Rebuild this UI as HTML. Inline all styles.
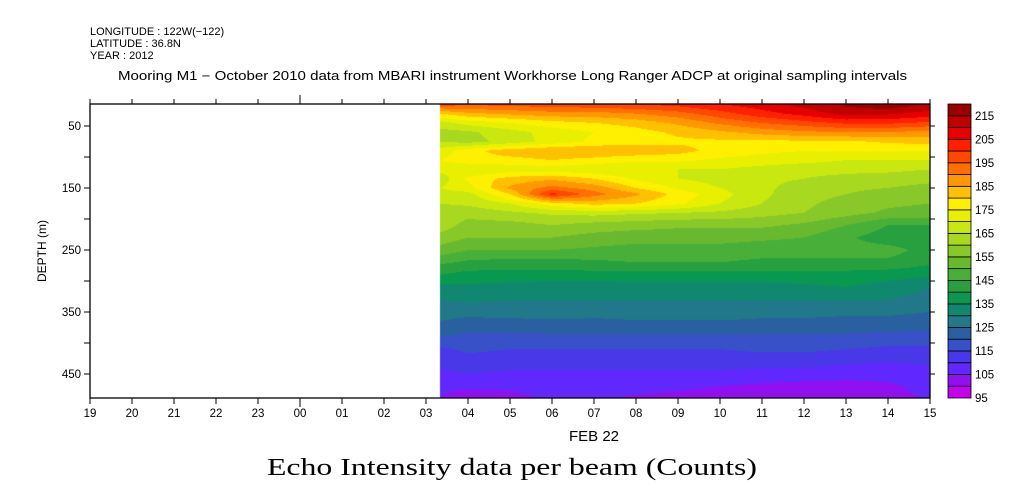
<!DOCTYPE html>
<html><head><meta charset="utf-8"><style>
body{margin:0;background:#fff;width:1009px;height:504px;overflow:hidden;position:relative}
svg{position:absolute;left:0;top:0}
canvas{position:absolute;left:0;top:0}
text{font-family:"Liberation Sans",sans-serif;fill:#000}
</style></head><body>
<canvas id="cv" width="1009" height="504"></canvas>
<svg id="sv" width="1009" height="504">
<text x="90" y="35" font-size="11">LONGITUDE : 122W(−122)</text>
<text x="90" y="47" font-size="11">LATITUDE : 36.8N</text>
<text x="90" y="59" font-size="11">YEAR : 2012</text>
<text x="118" y="80" font-size="12.5" textLength="789" lengthAdjust="spacingAndGlyphs">Mooring M1 − October 2010 data from MBARI instrument Workhorse Long Ranger ADCP at original sampling intervals</text>
<text x="46" y="251" font-size="12" text-anchor="middle" transform="rotate(-90 46 251)">DEPTH (m)</text>
<text x="594" y="441" font-size="15" text-anchor="middle">FEB 22</text>
<text x="267" y="475" font-size="24" textLength="490" lengthAdjust="spacingAndGlyphs" style="font-family:'Liberation Serif',serif">Echo Intensity data per beam (Counts)</text>
<g id="axes"></g>
<g id="cbar"></g>
</svg>
<script>
const hours=[3.33,4,5,6,7,8,9,10,11,12,13,14,15];
const depths=[15,30,45,60,75,90,105,120,135,150,160,175,190,210,230,250,270,290,310,330,350,370,390,410,430,450,470,490];
const values=[
[198,196,197,198,199,200,202,205,208,212,216,219,214],
[180,184,186,188,188,190,193,198,203,207,212,211,208],
[168,172,175,178,180,182,186,191,195,198,201,201,199],
[163,164,168,172,175,178,181,184,187,189,190,190,188],
[165,163,167,172,176,178,179,179,179,179,179,181,182],
[172,178,183,185,185,184,182,178,176,175,175,175,175],
[175,178,178,180,178,176,176,174,173,172,170,170,170],
[172,170,172,172,171,170,170,170,168,166,166,166,165],
[167,176,182,184,180,174,170,168,166,165,164,163,162],
[170,173,186,192,188,180,174,170,166,163,161,160,158],
[168,168,180,202,192,186,178,172,166,162,160,158,156],
[165,166,170,178,182,180,176,170,165,161,158,156,155],
[162,162,164,166,167,166,165,164,162,160,157,154,153],
[163,158,158,160,158,157,156,156,156,154,150,145,145],
[158,155,155,155,153,152,152,152,151,150,146,142,141],
[153,150,150,150,149,148,148,148,147,147,147,147,143],
[146,144,143,143,144,145,145,145,144,144,144,144,141],
[140,138,138,138,138,138,138,138,138,138,138,137,136],
[133,134,133,132,132,133,133,133,133,134,135,133,130],
[130,131,130,130,130,130,130,130,130,130,130,130,128],
[128,127,128,128,127,127,127,127,126,126,126,126,125],
[124,122,122,123,123,124,124,124,124,124,123,123,122],
[120,119,119,119,119,119,119,119,119,119,119,118,118],
[114,116,115,115,115,115,115,115,116,116,115,114,114],
[111,113,112,112,112,112,112,112,112,112,111,110,111],
[109,110,109,109,109,109,109,109,108,108,107,107,108],
[106,106,106,107,107,107,106,105,104,103,103,104,107],
[105,102,103,106,106,104,103,102,101,100,100,102,106]];
const xTickLabels=["19","20","21","22","23","00","01","02","03","04","05","06","07","08","09","10","11","12","13","14","15"];
const yTickLabels=[50,150,250,350,450];
const levelColors=["#c800f0","#9010f0","#6028ff","#4838e8","#3850c8","#2860a0","#207888","#108870","#089850","#28a040","#48b038","#68b830","#88c828","#a8d820","#c8e810","#e8f000","#fff000","#ffc000","#ff9800","#ff7000","#ff4800","#ff2000","#e80000","#c00000","#990000"];
const levelMin=95, levelStep=5;

const L=90,R=930,T=104,B=398;
const X=h=>{let t=h>=19?h-19:h+5;return L+42*t;};
const Y=d=>126+(d-50)*0.62;
const NS="http://www.w3.org/2000/svg";
function mk(tag,attrs,parent){const e=document.createElementNS(NS,tag);for(const k in attrs)e.setAttribute(k,attrs[k]);parent.appendChild(e);return e;}

const ctx=document.getElementById('cv').getContext('2d');
function interp(arr,v){let i=0;while(i<arr.length-2&&v>arr[i+1])i++;let f=(v-arr[i])/(arr[i+1]-arr[i]);return [i,Math.max(0,Math.min(1,f))];}
const x0=Math.round(X(hours[0])), x1=R;
for(let px=x0;px<x1;px++){
  const h=hours[0]+(px+0.5-X(hours[0]))/42;
  const [i,fx]=interp(hours,h);
  for(let py=T;py<B;py++){
    const d=50+(py+0.5-126)/0.62;
    const [j,fy]=interp(depths,d);
    const v=(values[j][i]*(1-fx)+values[j][i+1]*fx)*(1-fy)+(values[j+1][i]*(1-fx)+values[j+1][i+1]*fx)*fy;
    let k=Math.floor((v-levelMin)/levelStep);k=Math.max(0,Math.min(levelColors.length-1,k));
    ctx.fillStyle=levelColors[k];ctx.fillRect(px,py,1,1);
  }
}

const ax=document.getElementById('axes');
const frame=mk('rect',{x:L,y:T,width:R-L,height:B-T,fill:'none',stroke:'#000','stroke-width':1.3},ax);

xTickLabels.forEach((lab,n)=>{
  const x=L+42*n, big=lab==="00";
  const t1=mk('line',{x1:x,y1:B,x2:x,y2:B+(big?9:6),stroke:'#000'},ax);
  
  const t2=mk('line',{x1:x,y1:T,x2:x,y2:T-(big?9:5),stroke:'#000'},ax);
  
  const tx=mk('text',{x:x,y:B+19,'font-size':11.5,'text-anchor':'middle'},ax);tx.textContent=lab;
  
});
for(let d=50;d<=450;d+=50){
  const y=Y(d);
  const t=mk('line',{x1:L-6,y1:y,x2:L,y2:y,stroke:'#000'},ax);
  
  const t2=mk('line',{x1:R,y1:y,x2:R+5,y2:y,stroke:'#000'},ax);
  
}
yTickLabels.forEach(d=>{
  const tx=mk('text',{x:L-9,y:Y(d)+4,'font-size':11.5,'text-anchor':'end'},ax);tx.textContent=d;
  
});

const cb=document.getElementById('cbar');
const n=levelColors.length, bh=(B-T)/n;
levelColors.forEach((c,k)=>{
  const r=mk('rect',{x:948,y:B-(k+1)*bh,width:23,height:bh,fill:c,stroke:'#000','stroke-width':0.8},cb);
  
});
for(let k=0;k<n;k+=2){
  const v=levelMin+k*levelStep;
  const tx=mk('text',{x:975,y:B-k*bh+4,'font-size':11.5},cb);tx.textContent=v;
  
}
</script>
</body></html>
